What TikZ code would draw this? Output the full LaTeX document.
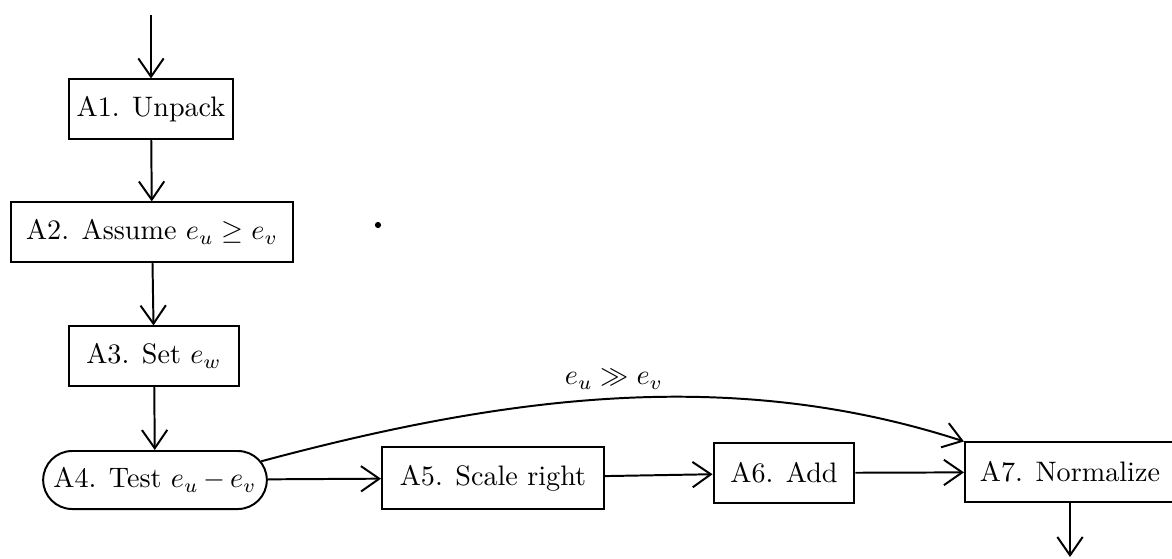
\documentclass[tikz,border=0pt]{standalone}
\usepackage{amsmath}
\usepackage{amssymb}
\usetikzlibrary{arrows.meta,positioning,shapes.misc}

\begin{document}
\begin{tikzpicture}[x=0.355pt,y=-0.355pt,
  line width=0.7pt,
  stepbox/.style={draw,rectangle,inner sep=2pt,minimum height=21pt},
  testbox/.style={draw,rounded rectangle,inner sep=2pt,minimum height=20.6pt},
  flow/.style={-{Straight Barb[length=6.5pt,width=9pt]}}]
  \useasboundingbox (0,0) rectangle (1172,558);
  \coordinate (start) at (151,15);
  \coordinate (finish) at (1070,557);
  \node[stepbox,minimum width=57.9pt] (A1) at (151,109) {A1. Unpack};
  \node[stepbox,minimum width=99.8pt] (A2) at (152,232) {A2. Assume $e_u \geq e_v$};
  \node[stepbox,minimum width=60.4pt] (A3) at (154,356) {A3. Set $e_w$};
  \node[testbox,minimum width=83.4pt] (A4) at (155,480) {A4. Test $e_u\,{-}\,e_v$};
  \node[stepbox,minimum width=78.8pt,minimum height=22pt] (A5) at (493,478) {A5. Scale right};
  \node[stepbox,minimum width=50pt] (A6) at (784,473) {A6. Add};
  \node[stepbox,minimum width=74.6pt] (A7) at (1070,472) {A7. Normalize};
  \fill (378,225) circle[radius=1.1pt];
  \draw[flow] (start) -- (A1);
  \draw[flow] (A1) -- (A2);
  \draw[flow] (A2) -- (A3);
  \draw[flow] (A3) -- (A4);
  \draw[flow] (A4) -- (A5);
  \draw[flow] (A5) -- (A6);
  \draw[flow] (A6) -- (A7);
  \draw[flow] (A7) -- (finish);
  % shortcut when the exponents differ a lot
  \draw[flow] (A4.10) to[out=15,in=162,looseness=0.9]
    node[above,pos=0.5,inner sep=3pt] (big) {$e_u \gg e_v$} (A7.north west);
\end{tikzpicture}
\end{document}
